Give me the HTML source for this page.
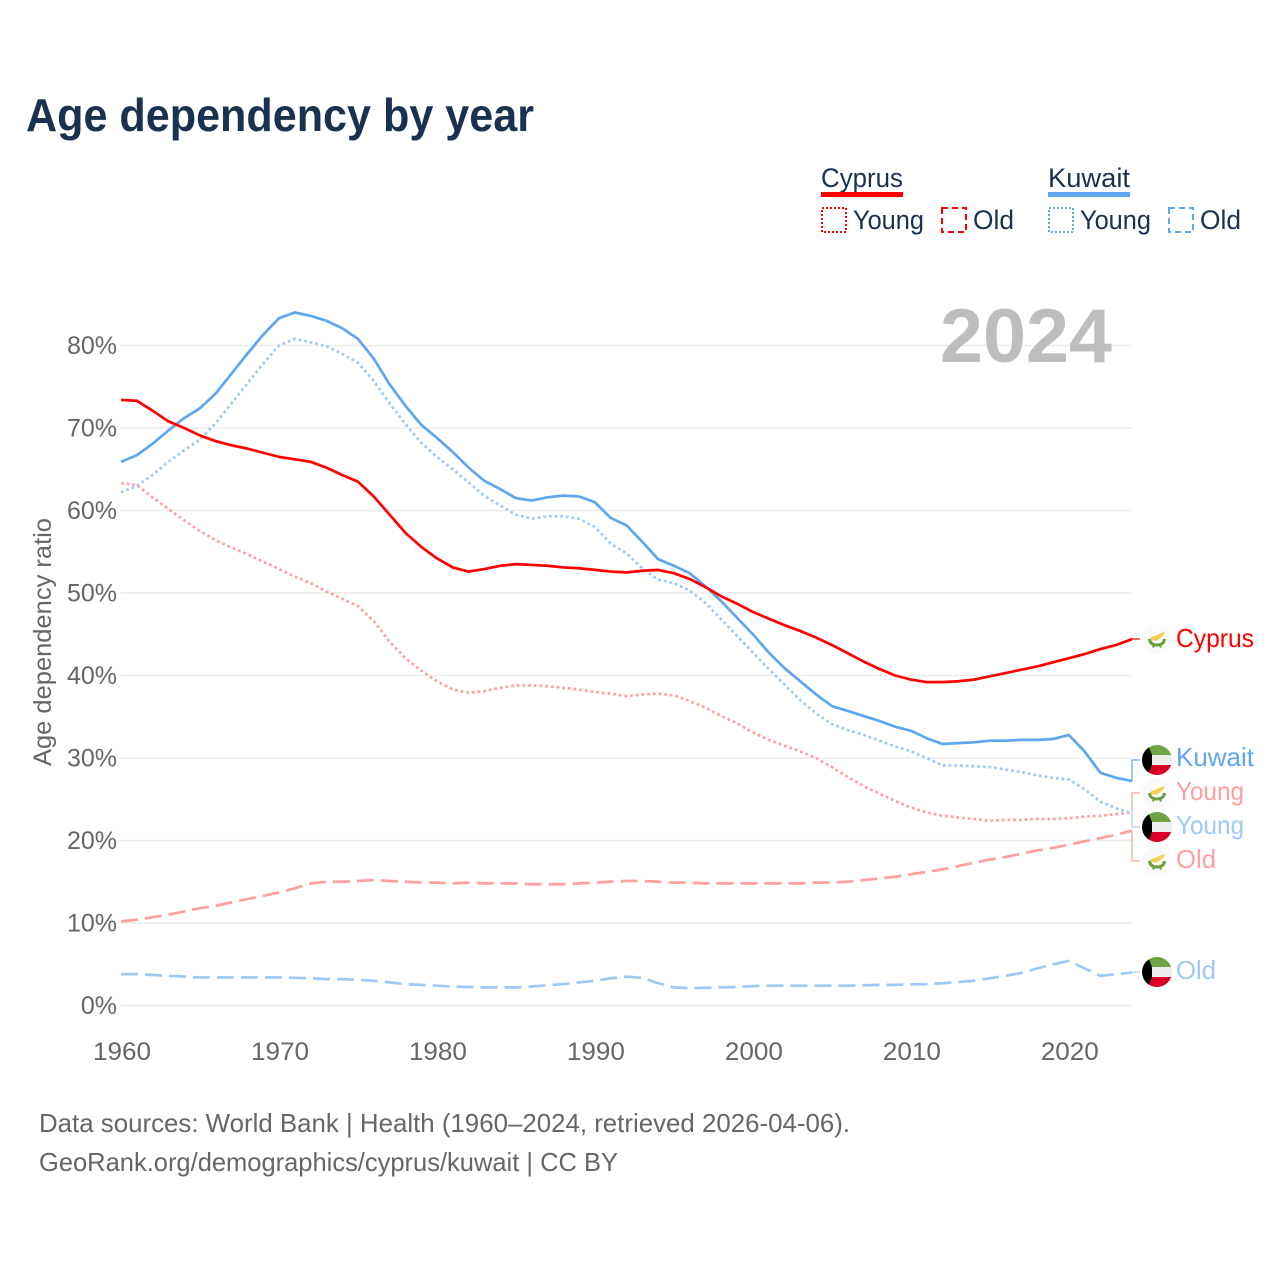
<!DOCTYPE html>
<html lang="en">
<head>
<meta charset="utf-8">
<title>Age dependency by year</title>
<style>
html,body{margin:0;padding:0;background:#fff;}
svg{display:block;font-family:"Liberation Sans",sans-serif;}
</style>
</head>
<body>
<svg id="chart" xmlns="http://www.w3.org/2000/svg" width="1280" height="1280" viewBox="0 0 1280 1280">
  <defs>
    <clipPath id="flag-clip"><circle cx="0" cy="0" r="15"/></clipPath>
    <symbol id="flag-kw" overflow="visible" viewBox="-15 -15 30 30" width="30" height="30">
      <g clip-path="url(#flag-clip)">
        <rect x="-15" y="-15" width="30" height="10.5" fill="#6da544"/>
        <rect x="-15" y="-5" width="30" height="10" fill="#eeeeee"/>
        <rect x="-15" y="5" width="30" height="10.5" fill="#d80027"/>
        <polygon points="-15,-15 -9,-15 -5,-5 -5,5 -9,15 -15,15" fill="#000"/>
      </g>
    </symbol>
    <symbol id="flag-cy" overflow="visible" viewBox="-15 -15 30 30" width="30" height="30">
      <circle cx="0" cy="0" r="15" fill="#fafafa"/>
      <path d="M-7,-1 C-4,-3 -1,-3 2,-5 L8,-7 C7,-4 5,-2 2,0 C0,2 -3,2 -5,1 Z" fill="#f4cf4b"/>
      <path d="M-7.5,0 C-7,4.5 -4,6 0,6 C4,6 7,4.5 7.5,0" fill="none" stroke="#6b9f3e" stroke-width="3"/>
      <path d="M-3,6 L-4,8.5 M3,6 L4,8.5" stroke="#6b9f3e" stroke-width="2"/>
    </symbol>
  </defs>

  <text x="26" y="131" font-size="46" font-weight="700" fill="#1a3150" textLength="508" lengthAdjust="spacingAndGlyphs">Age dependency by year</text>

  <g font-size="27" fill="#1a3150">
    <text x="821" y="187" textLength="82" lengthAdjust="spacingAndGlyphs">Cyprus</text>
    <rect x="821" y="192" width="82" height="5" fill="#ff0000"/>
    <rect x="822" y="208" width="24" height="24" fill="none" stroke="#ff0000" stroke-width="2" stroke-dasharray="2 2"/>
    <text x="853" y="229" textLength="71" lengthAdjust="spacingAndGlyphs">Young</text>
    <rect x="942" y="208" width="24" height="24" fill="none" stroke="#ff0000" stroke-width="2" stroke-dasharray="6 4"/>
    <text x="973" y="229" textLength="41" lengthAdjust="spacingAndGlyphs">Old</text>
    <text x="1048" y="187" textLength="82" lengthAdjust="spacingAndGlyphs">Kuwait</text>
    <rect x="1048" y="192" width="82" height="5" fill="#5ea6ee"/>
    <rect x="1049" y="208" width="24" height="24" fill="none" stroke="#5ea6ee" stroke-width="2" stroke-dasharray="2 2"/>
    <text x="1080" y="229" textLength="71" lengthAdjust="spacingAndGlyphs">Young</text>
    <rect x="1169" y="208" width="24" height="24" fill="none" stroke="#5ea6ee" stroke-width="2" stroke-dasharray="6 4"/>
    <text x="1200" y="229" textLength="41" lengthAdjust="spacingAndGlyphs">Old</text>
  </g>

  <g id="grid"></g>
  <text x="940" y="362" font-size="76" font-weight="700" fill="#bdbdbd" textLength="172" lengthAdjust="spacingAndGlyphs">2024</text>
  <g id="ticks"></g>
  <text transform="translate(51,766) rotate(-90)" font-size="25" fill="#666666" textLength="248" lengthAdjust="spacingAndGlyphs">Age dependency ratio</text>

  <g id="connectors"></g>
  <g id="series"></g>

  <g font-size="26">
    <use href="#flag-cy" x="1142" y="624"/>
    <text x="1176" y="647" fill="#ff0000" textLength="78" lengthAdjust="spacingAndGlyphs">Cyprus</text>
    <use href="#flag-kw" x="1142" y="745"/>
    <text x="1176" y="766" fill="#5ea6ee" textLength="78" lengthAdjust="spacingAndGlyphs">Kuwait</text>
    <use href="#flag-cy" x="1142" y="778"/>
    <text x="1176" y="800" fill="#ff9f9f" textLength="68" lengthAdjust="spacingAndGlyphs">Young</text>
    <use href="#flag-kw" x="1142" y="812"/>
    <text x="1176" y="834" fill="#9fc9f4" textLength="68" lengthAdjust="spacingAndGlyphs">Young</text>
    <use href="#flag-cy" x="1142" y="846"/>
    <text x="1176" y="868" fill="#ff9f9f" textLength="40" lengthAdjust="spacingAndGlyphs">Old</text>
    <use href="#flag-kw" x="1142" y="957"/>
    <text x="1176" y="979" fill="#9fc9f4" textLength="40" lengthAdjust="spacingAndGlyphs">Old</text>
  </g>

  <g font-size="26" fill="#666666">
    <text x="39" y="1132" textLength="811" lengthAdjust="spacingAndGlyphs">Data sources: World Bank | Health (1960–2024, retrieved 2026-04-06).</text>
    <text x="39" y="1171" textLength="579" lengthAdjust="spacingAndGlyphs">GeoRank.org/demographics/cyprus/kuwait | CC BY</text>
  </g>
</svg>

<script>
const xTickYears = [1960, 1970, 1980, 1990, 2000, 2010, 2020];
const yTickValues = [0, 10, 20, 30, 40, 50, 60, 70, 80];
const firstYear = 1960;
const lastYear = 2024;

const cyprusTotal = [73.4,73.3,72.1,70.8,70.0,69.1,68.4,67.9,67.5,67.0,66.5,66.2,65.9,65.2,64.3,63.5,61.7,59.5,57.3,55.6,54.2,53.1,52.6,52.9,53.3,53.5,53.4,53.3,53.1,53.0,52.8,52.6,52.5,52.7,52.8,52.4,51.7,50.7,49.6,48.7,47.7,46.9,46.1,45.4,44.6,43.7,42.7,41.7,40.8,40.0,39.5,39.2,39.2,39.3,39.5,39.9,40.3,40.7,41.1,41.6,42.1,42.6,43.2,43.7,44.4];
const cyprusYoung = [63.3,63.1,61.6,60.2,58.8,57.5,56.4,55.5,54.7,53.8,52.9,52.0,51.2,50.2,49.3,48.4,46.6,44.1,42.1,40.6,39.3,38.3,37.9,38.1,38.5,38.8,38.8,38.7,38.5,38.3,38.0,37.8,37.5,37.7,37.8,37.6,36.9,36.1,35.1,34.2,33.1,32.2,31.5,30.8,30.0,28.9,27.7,26.6,25.7,24.8,24.0,23.4,23.0,22.8,22.6,22.4,22.5,22.5,22.6,22.6,22.7,22.9,23.0,23.2,23.4];
const cyprusOld = [10.2,10.4,10.7,11.0,11.4,11.8,12.1,12.5,12.9,13.3,13.7,14.2,14.8,15.0,15.0,15.1,15.2,15.1,15.0,14.9,14.9,14.8,14.9,14.8,14.8,14.8,14.7,14.7,14.7,14.8,14.9,15.0,15.1,15.1,15.0,14.9,14.9,14.8,14.8,14.8,14.8,14.8,14.8,14.8,14.9,14.9,15.0,15.2,15.4,15.6,15.9,16.2,16.5,16.9,17.3,17.7,18.0,18.4,18.8,19.1,19.5,19.9,20.3,20.7,21.2];
const kuwaitTotal = [65.9,66.7,68.1,69.7,71.2,72.4,74.2,76.6,79.0,81.3,83.3,84.0,83.6,83.0,82.1,80.8,78.4,75.3,72.7,70.4,68.8,67.1,65.2,63.6,62.6,61.5,61.2,61.6,61.8,61.7,61.0,59.1,58.2,56.2,54.1,53.3,52.4,50.8,49.0,47.0,45.0,42.8,40.9,39.3,37.7,36.3,35.7,35.1,34.5,33.8,33.3,32.4,31.7,31.8,31.9,32.1,32.1,32.2,32.2,32.3,32.8,30.8,28.2,27.6,27.2];
const kuwaitYoung = [62.2,63.0,64.3,65.9,67.3,68.6,70.6,73.0,75.4,77.8,80.0,80.8,80.4,79.9,79.0,77.9,75.7,73.0,70.5,68.2,66.5,65.0,63.4,61.8,60.6,59.5,59.0,59.3,59.3,59.0,58.0,56.0,54.8,53.0,51.6,51.2,50.3,48.8,46.8,44.8,42.8,40.8,38.9,37.0,35.4,34.1,33.4,32.8,32.1,31.4,30.8,30.0,29.1,29.1,29.0,28.9,28.6,28.3,27.9,27.6,27.4,26.2,24.7,23.9,23.3];
const kuwaitOld = [3.8,3.8,3.7,3.6,3.5,3.4,3.4,3.4,3.4,3.4,3.4,3.35,3.3,3.2,3.2,3.1,3.0,2.8,2.6,2.5,2.4,2.3,2.25,2.2,2.2,2.2,2.3,2.45,2.6,2.8,3.0,3.3,3.5,3.35,2.7,2.2,2.1,2.15,2.2,2.25,2.35,2.4,2.4,2.4,2.4,2.4,2.4,2.45,2.5,2.5,2.55,2.6,2.7,2.85,3.0,3.3,3.6,3.95,4.5,5.0,5.4,4.5,3.6,3.8,4.0];

const NS = 'http://www.w3.org/2000/svg';
const plotLeft = 121, plotRight = 1132, zeroY = 1005.5, pxPerPct = 8.25;
function xScale(year) { return plotLeft + (year - firstYear) * (plotRight - plotLeft) / (lastYear - firstYear); }
function yScale(v) { return zeroY - v * pxPerPct; }
function make(tag, parent, attrs) {
  const el = document.createElementNS(NS, tag);
  for (const k in attrs) el.setAttribute(k, attrs[k]);
  parent.appendChild(el);
  return el;
}

const grid = document.getElementById('grid');
const ticks = document.getElementById('ticks');
yTickValues.forEach(function (v) {
  const line = make('line', grid, { x1: plotLeft, x2: plotRight, y1: yScale(v), y2: yScale(v), stroke: '#ececec', 'stroke-width': 1.5 });
  
  
  const label = make('text', ticks, { x: 117, y: yScale(v) + 8.5, 'text-anchor': 'end', 'font-size': 25, fill: '#666666' });
  
  
  label.textContent = v + '%';
});
xTickYears.forEach(function (yr) {
  const label = make('text', ticks, { x: xScale(yr) + 1, y: 1060, 'text-anchor': 'middle', 'font-size': 25, fill: '#666666', textLength: 58, lengthAdjust: 'spacingAndGlyphs' });
  
  
  label.textContent = yr;
});

const connectorGroup = document.getElementById('connectors');
function connector(values, labelY, colour) {
  const endY = yScale(values[values.length - 1]);
  const path = make('path', connectorGroup, { d: 'M' + plotRight + ',' + endY + ' L' + plotRight + ',' + labelY + ' L1140,' + labelY, fill: 'none', stroke: colour, 'stroke-width': 1.2 });
  return path;
}
const connKuwait = connector(kuwaitTotal, 760, '#5ea6ee');


const connCyYoung = connector(cyprusYoung, 793, '#ff9f9f');


const connKwYoung = connector(kuwaitYoung, 827, '#9fc9f4');


const connCyOld = connector(cyprusOld, 861, '#ff9f9f');


const connCyTotal = connector(cyprusTotal, 639, '#ff0000');


const connKwOld = connector(kuwaitOld, 972, '#9fc9f4');



const seriesGroup = document.getElementById('series');
function drawLine(values, colour, width, dash) {
  const d = values.map(function (v, i) {
    return (i ? 'L' : 'M') + xScale(firstYear + i).toFixed(2) + ',' + yScale(v).toFixed(2);
  }).join(' ');
  const attrs = { d: d, fill: 'none', stroke: colour, 'stroke-width': width, 'stroke-linejoin': 'round' };
  if (dash) attrs['stroke-dasharray'] = dash;
  return make('path', seriesGroup, attrs);
}
const lineCyOld = drawLine(cyprusOld, '#ff9f9f', 2.7, '17 7');


const lineKwOld = drawLine(kuwaitOld, '#9fc9f4', 2.7, '17 7');


const lineCyYoung = drawLine(cyprusYoung, '#ff9f9f', 2.7, '2.7 3');


const lineKwYoung = drawLine(kuwaitYoung, '#9fc9f4', 2.7, '2.7 3');


const lineKwTotal = drawLine(kuwaitTotal, '#5ea6ee', 2.7, '');


const lineCyTotal = drawLine(cyprusTotal, '#ff0000', 2.7, '');


</script>
</body>
</html>
